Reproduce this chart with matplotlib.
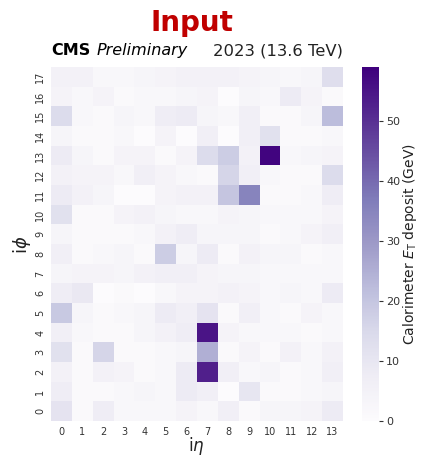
import numpy as np
import matplotlib
matplotlib.use("Agg")
import matplotlib.pyplot as plt

# calorimeter ET deposits, rows = i_phi 0..17, cols = i_eta 0..13
ieta = list(range(14))
iphi = list(range(18))
deposits = np.array([
    [11, 1, 7, 2, 2, 2, 4, 2, 6, 1, 3, 3, 4, 8],     # 0
    [7, 1, 1, 2, 3, 2, 8, 6, 0, 10, 1, 1, 2, 3],     # 1
    [5, 1, 5, 4, 1, 2, 8, 53, 6, 2, 3, 1, 2, 6],     # 2
    [12, 1, 16, 1, 1, 2, 3, 25, 1, 4, 1, 5, 2, 5],   # 3
    [6, 2, 1, 1, 3, 5, 7, 55, 4, 2, 2, 2, 1, 2],     # 4
    [19, 3, 1, 2, 3, 8, 6, 11, 1, 6, 2, 1, 4, 2],    # 5
    [7, 9, 0, 1, 0, 2, 4, 4, 5, 4, 2, 3, 2, 8],      # 6
    [3, 4, 4, 3, 5, 6, 6, 4, 3, 3, 2, 2, 2, 2],      # 7
    [6, 1, 2, 3, 1, 18, 3, 8, 1, 5, 3, 3, 1, 2],     # 8
    [3, 1, 1, 1, 2, 5, 7, 3, 3, 3, 1, 2, 4, 6],      # 9
    [12, 1, 1, 4, 5, 3, 2, 2, 4, 3, 2, 2, 2, 4],     # 10
    [8, 5, 3, 0, 0, 4, 5, 5, 20, 35, 1, 1, 2, 7],    # 11
    [5, 4, 4, 2, 6, 4, 2, 1, 16, 6, 2, 1, 1, 14],    # 12
    [8, 3, 1, 4, 4, 1, 4, 14, 18, 5, 58, 2, 3, 4],   # 13
    [3, 1, 1, 2, 0, 4, 0, 6, 0, 6, 12, 1, 1, 2],     # 14
    [14, 2, 1, 3, 2, 7, 8, 3, 2, 6, 1, 1, 3, 22],    # 15
    [4, 2, 4, 1, 2, 2, 3, 4, 0, 3, 2, 8, 4, 1],      # 16
    [5, 5, 2, 2, 3, 4, 5, 5, 5, 4, 3, 2, 3, 13],     # 17
], dtype=float)
vmax = 59.0

W, H = 421, 457
fig = plt.figure(figsize=(W / 100, H / 100), dpi=100)

ax = fig.add_axes((51 / W, 1 - 421 / H, 292 / W, 354 / H))
im = ax.imshow(deposits, cmap="Purples", vmin=0, vmax=vmax, origin="lower",
               aspect="auto", interpolation="nearest",
               extent=(-0.5, len(ieta) - 0.5, -0.5, len(iphi) - 0.5))
for s in ax.spines.values():
    s.set_visible(False)
ax.set_xticks(ieta)
ax.set_xticklabels([str(i) for i in ieta])
ax.set_yticks(iphi)
ax.set_yticklabels([str(i) for i in iphi], rotation=90, va="center")
ax.tick_params(length=0, labelsize=7, colors="#333333", pad=4)
fig.text(196 / W, 1 - 451 / H, r"i$\eta$", fontsize=12, color="#222222",
         ha="center", va="baseline")
fig.text(22 / W, 1 - 245 / H, r"i$\phi$", fontsize=13, color="#222222",
         ha="center", va="center", rotation=90)

ax.text(0.0, 1.025, "CMS", transform=ax.transAxes, fontsize=11.5,
        fontweight="bold", ha="left", va="bottom")
ax.text(0.155, 1.025, "Preliminary", transform=ax.transAxes, fontsize=11.5,
        fontstyle="italic", ha="left", va="bottom")
ax.text(1.0, 1.025, "2023 (13.6 TeV)", transform=ax.transAxes, fontsize=11.8,
        ha="right", va="bottom", color="#222222")

fig.text(192 / W, 1 - 23 / H, "Input", fontsize=20, fontweight="bold",
         color="#c00000", ha="center", va="center")

cax = fig.add_axes((362 / W, 1 - 421 / H, 17 / W, 354 / H))
cb = fig.colorbar(im, cax=cax)
cb.outline.set_visible(False)
cb.set_ticks([0, 10, 20, 30, 40, 50])
cax.tick_params(labelsize=8, length=3, colors="#333333", pad=2)
cb.set_label(r"Calorimeter $E_\mathrm{T}$ deposit (GeV)", fontsize=10,
             color="#222222", labelpad=1)

fig.savefig("out.png", dpi=100)
